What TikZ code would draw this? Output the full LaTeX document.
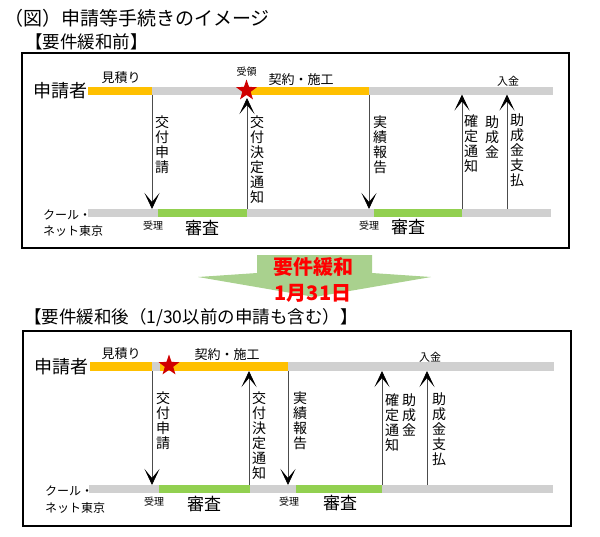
\documentclass[tikz,border=0pt]{standalone}
\usepackage{fontspec}
\setmainfont{Noto Sans CJK JP}
\usetikzlibrary{arrows.meta,shapes.geometric}
\definecolor{barorange}{HTML}{FFC000}
\definecolor{bargrey}{HTML}{D0D0D0}
\definecolor{bargreen}{HTML}{92D050}
\definecolor{starred}{HTML}{D00000}
\definecolor{bigarrow}{HTML}{A9D18E}
\definecolor{relaxred}{HTML}{FF0000}
\begin{document}
\begin{tikzpicture}[x=1pt,y=-1pt,
  frame/.style={draw=black,line width=1.5pt},
  lbl/.style={inner sep=0pt,font=\fontsize{13}{15}\selectfont},
  small/.style={inner sep=0pt,font=\fontsize{10}{12}\selectfont},
  review/.style={inner sep=0pt,font=\fontsize{17}{19}\selectfont},
  party/.style={inner sep=0pt,font=\fontsize{18}{20}\selectfont},
  org/.style={inner sep=0pt,anchor=west,font=\fontsize{12}{14}\selectfont},
  vtext/.style={inner sep=0pt,anchor=north,align=center,font=\fontsize{14}{15}\selectfont},
  head/.style={inner sep=0pt,anchor=west,font=\fontsize{17.5}{20}\selectfont},
  flow/.style={draw=black!70,line width=0.8pt,-{Stealth[length=16pt,width=15pt,inset=9pt,color=black]}},
  starmark/.style={star,star points=5,star point ratio=2.5,fill=starred,draw=none,minimum size=22pt,inner sep=0pt},
  relax/.style={inner sep=0pt,text=relaxred,font=\fontsize{20}{22}\selectfont\bfseries},
]
\useasboundingbox (0,0) rectangle (600,536);

% headings
\node[inner sep=0pt,anchor=west,font=\fontsize{19}{21}\selectfont] (title) at (4,18) {（図）申請等手続きのイメージ};
\node[head] (headA) at (25,42) {【要件緩和前】};
\node[head] (headB) at (24,318) {【要件緩和後（1/30以前の申請も含む）】};

% frames
\draw[frame] (22,53) rectangle (569,248);
\draw[frame] (23,331) rectangle (571,526);

% ===== upper section bars =====
\fill[barorange] (88,86.5) rectangle (152,94.5);
\fill[bargrey]   (152,86.5) rectangle (246,94.5);
\fill[barorange] (246,86.5) rectangle (369,94.5);
\fill[bargrey]   (369,86.5) rectangle (553,94.5);
\fill[bargrey]   (88,209) rectangle (158,217);
\fill[bargreen]  (158,209) rectangle (247,217);
\fill[bargrey]   (247,209) rectangle (374,217);
\fill[bargreen]  (374,209) rectangle (462,217);
\fill[bargrey]   (462,209) rectangle (551,217);

% upper labels
\node[party] (appA) at (60,90.5) {申請者};
\node[lbl] (estA) at (121,78) {見積り};
\node[lbl] (conA) at (301,79.5) {契約・施工};
\node[small] (recvA) at (246.5,72) {受領};
\node[inner sep=0pt,font=\fontsize{11}{12}\selectfont] (payA) at (508,81) {入金};
\node[org] (cnA1) at (43,215) {クール・};
\node[org] (cnA2) at (43,231) {ネット東京};
\node[small] (accA1) at (153,226) {受理};
\node[review] (revA1) at (202,228) {審査};
\node[small] (accA2) at (369,226) {受理};
\node[review] (revA2) at (408,227) {審査};

% upper arrows
\coordinate (a1s) at (152,94.5);  \coordinate (a1e) at (152,209);
\coordinate (a2s) at (247,209);   \coordinate (a2e) at (247,98);
\coordinate (a3s) at (369,94.5);  \coordinate (a3e) at (369,209);
\coordinate (a4s) at (462,209);   \coordinate (a4e) at (462,94.5);
\coordinate (a5s) at (507,209);   \coordinate (a5e) at (507,94.5);
\draw[flow] (a1s) -- (a1e);
\draw[flow] (a2s) -- (a2e);
\draw[flow] (a3s) -- (a3e);
\draw[flow] (a4s) -- (a4e);
\draw[flow] (a5s) -- (a5e);
\node[starmark] (starA) at (246.5,90.5) {};

\node[vtext] (vA1) at (162,116) {交\\付\\申\\請};
\node[vtext] (vA2) at (257,116) {交\\付\\決\\定\\通\\知};
\node[vtext] (vA3) at (380,116) {実\\績\\報\\告};
\node[vtext] (vA4) at (471,115) {確\\定\\通\\知};
\node[vtext] (vA5) at (492,116) {助\\成\\金};
\node[vtext] (vA6) at (517,114) {助\\成\\金\\支\\払};

% ===== transition arrow =====
\fill[bigarrow] (257,255) -- (372,255) -- (372,273) -- (431,277) -- (314.5,297) -- (198,277) -- (257,273) -- cycle;
\node[relax] (relax1) at (313,267) {要件緩和};
\node[relax] (relax2) at (313,293) {1月31日};

% ===== lower section bars =====
\fill[barorange] (90,362) rectangle (152,371);
\fill[bargrey]   (152,362) rectangle (160,371);
\fill[barorange] (160,362) rectangle (288,371);
\fill[bargrey]   (288,362) rectangle (554,371);
\fill[bargrey]   (89,485) rectangle (159,493);
\fill[bargreen]  (159,485) rectangle (250,493);
\fill[bargrey]   (250,485) rectangle (296,493);
\fill[bargreen]  (296,485) rectangle (382,493);
\fill[bargrey]   (382,485) rectangle (553,493);

% lower labels
\node[party] (appB) at (61.5,367) {申請者};
\node[lbl] (estB) at (121,354) {見積り};
\node[lbl] (conB) at (227,355) {契約・施工};
\node[inner sep=0pt,font=\fontsize{11}{12}\selectfont] (payB) at (430,357) {入金};
\node[org] (cnB1) at (45,491) {クール・};
\node[org] (cnB2) at (45,508) {ネット東京};
\node[small] (accB1) at (154,502) {受理};
\node[review] (revB1) at (204,504) {審査};
\node[small] (accB2) at (289,502) {受理};
\node[review] (revB2) at (340,503) {審査};

% lower arrows
\coordinate (b1s) at (152,371);  \coordinate (b1e) at (152,485);
\coordinate (b2s) at (249,485);  \coordinate (b2e) at (249,371);
\coordinate (b3s) at (288,371);  \coordinate (b3e) at (288,485);
\coordinate (b4s) at (382,485);  \coordinate (b4e) at (382,371);
\coordinate (b5s) at (427,485);  \coordinate (b5e) at (427,371);
\draw[flow] (b1s) -- (b1e);
\draw[flow] (b2s) -- (b2e);
\draw[flow] (b3s) -- (b3e);
\draw[flow] (b4s) -- (b4e);
\draw[flow] (b5s) -- (b5e);
\node[starmark] (starB) at (169,365.5) {};

\node[vtext] (vB1) at (163,392) {交\\付\\申\\請};
\node[vtext] (vB2) at (259,392) {交\\付\\決\\定\\通\\知};
\node[vtext] (vB3) at (300,392) {実\\績\\報\\告};
\node[vtext] (vB4) at (392,394) {確\\定\\通\\知};
\node[vtext] (vB5) at (409,394) {助\\成\\金};
\node[vtext] (vB6) at (439,393) {助\\成\\金\\支\\払};
\end{tikzpicture}
\end{document}
